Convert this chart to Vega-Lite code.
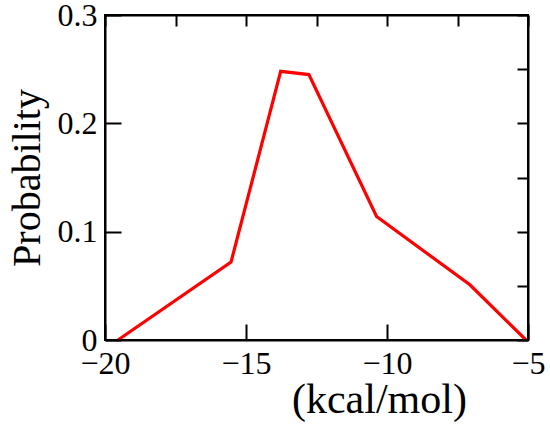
{
  "$schema": "https://vega.github.io/schema/vega-lite/v6.json",
  "width": 423,
  "height": 325,
  "autosize": "none",
  "padding": {"left": 105, "top": 15, "right": 22, "bottom": 95},
  "config": {
    "view": {"stroke": "black", "strokeWidth": 2},
    "axis": {
      "grid": false,
      "domainColor": "black",
      "domainWidth": 2,
      "labelFont": "Times New Roman",
      "labelFontSize": 32,
      "labelColor": "black",
      "titleFont": "Times New Roman",
      "titleFontSize": 40,
      "titleFontWeight": "normal",
      "titleColor": "black"
    }
  },
  "datasets": {
    "hist": [
      {"dG": -19.54, "p": 0},
      {"dG": -15.53, "p": 0.072},
      {"dG": -13.77, "p": 0.248},
      {"dG": -12.77, "p": 0.245},
      {"dG": -10.37, "p": 0.114},
      {"dG": -7.06, "p": 0.051},
      {"dG": -5.07, "p": 0}
    ]
  },
  "layer": [
    {
      "data": {"name": "hist"},
      "mark": {"type": "line", "color": "red", "strokeWidth": 3.2},
      "encoding": {
        "x": {
          "field": "dG",
          "type": "quantitative",
          "scale": {"domain": [-20, -5], "nice": false, "zero": false},
          "axis": {
            "orient": "bottom",
            "title": null,
            "values": [-20, -15, -10, -5],
            "ticks": true,
            "tickColor": "black",
            "tickOpacity": 1,
            "tickWidth": 2,
            "tickSize": -16,
            "zindex": 1,
            "labelPadding": 24,
            "labelFlush": false
          }
        },
        "y": {
          "field": "p",
          "type": "quantitative",
          "scale": {"domain": [0, 0.3], "nice": false},
          "axis": {
            "orient": "left",
            "title": "Probability",
            "format": "~g",
            "values": [0, 0.1, 0.2, 0.3],
            "ticks": true,
            "tickColor": "black",
            "tickOpacity": 1,
            "tickWidth": 2,
            "tickSize": -16,
            "zindex": 1,
            "labelPadding": 24,
            "titlePadding": 10,
            "labelFlush": false
          }
        }
      }
    },
    {
      "data": {"name": "hist"},
      "mark": {"type": "line", "strokeOpacity": 0},
      "encoding": {
        "x": {
          "field": "dG",
          "type": "quantitative",
          "axis": {
            "orient": "top",
            "title": null,
            "labels": false,
            "values": [-20, -17.5, -15, -12.5, -10, -7.5, -5],
            "ticks": true,
            "tickColor": "black",
            "tickOpacity": 1,
            "tickWidth": 2,
            "tickSize": -11,
            "zindex": 1
          }
        },
        "y": {
          "field": "p",
          "type": "quantitative",
          "axis": {
            "orient": "right",
            "title": null,
            "labels": false,
            "values": [0, 0.05, 0.1, 0.15, 0.2, 0.25, 0.3],
            "ticks": true,
            "tickColor": "black",
            "tickOpacity": 1,
            "tickWidth": 2,
            "tickSize": -11,
            "zindex": 1
          }
        }
      }
    },
    {
      "data": {"values": [{}]},
      "mark": {"type": "text", "text": "(kcal/mol)", "font": "Times New Roman", "fontSize": 42, "align": "left", "baseline": "alphabetic", "color": "black"},
      "encoding": {
        "x": {"datum": -13.37, "type": "quantitative", "axis": null},
        "y": {"datum": -0.0674, "type": "quantitative", "axis": null}
      }
    }
  ],
  "resolve": {"axis": {"x": "independent", "y": "independent"}}
}
